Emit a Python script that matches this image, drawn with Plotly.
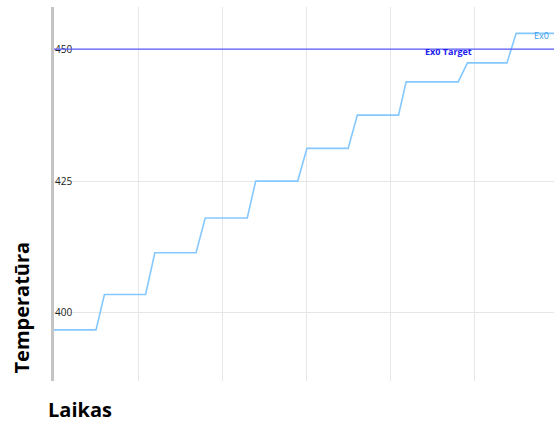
import plotly.graph_objects as go

# Data
times = [0, 0.50, 0.60, 1.09, 1.20, 1.69, 1.80, 2.30, 2.40, 2.90, 3.01,
         3.50, 3.61, 4.10, 4.19, 4.81, 4.92, 5.39, 5.50, 5.95]
temps = [396.8, 396.8, 403.5, 403.5, 411.4, 411.4, 418.0, 418.0, 425.0, 425.0,
         431.2, 431.2, 437.5, 437.5, 443.8, 443.8, 447.4, 447.4, 453.0, 453.0]
target_value = 450
series_name = "Ex0"
target_name = "Ex0 Target"
y_ticks = [400, 425, 450]
x_title = "Laikas"
y_title = "Temperatūra"

fig = go.Figure()
fig.add_trace(go.Scatter(
    x=times, y=temps, mode="lines", name=series_name,
    line=dict(color="#84c8ff", width=1.6), showlegend=False,
))

fig.add_shape(type="line", xref="paper", x0=0, x1=1, yref="y",
              y0=target_value, y1=target_value,
              line=dict(color="#5a5aff", width=1.3))

fig.add_annotation(x=4.69, y=target_value, xref="x", yref="y", text=target_name,
                   showarrow=False, yshift=-2, xanchor="center", yanchor="middle",
                   font=dict(family="Open Sans", size=9, color="#2020ee", weight="bold"))
fig.add_annotation(x=5.69, y=452.6, xref="x", yref="y", text=series_name,
                   showarrow=False, xanchor="left", yanchor="middle",
                   font=dict(family="Open Sans", size=9, color="#3b9ae8"))

fig.add_annotation(x=-0.064, y=0.1965, xref="paper", yref="paper", text=y_title,
                   textangle=-90, showarrow=False, xanchor="center", yanchor="middle",
                   font=dict(family="Open Sans", size=20, color="#000000", weight="bold"))
fig.add_annotation(x=0.052, y=-0.076, xref="paper", yref="paper", text=x_title,
                   showarrow=False, xanchor="center", yanchor="middle",
                   font=dict(family="Open Sans", size=20, color="#000000", weight="bold"))

fig.update_layout(
    width=554, height=423,
    margin=dict(l=54, r=0, t=7, b=42),
    paper_bgcolor="white", plot_bgcolor="white",
    xaxis=dict(range=[0, 5.95], dtick=1, tick0=0, showgrid=True,
               gridcolor="#e6e6e6", gridwidth=1.3, showticklabels=False,
               zeroline=False, showline=False, ticks=""),
    yaxis=dict(range=[387.1, 458.0], tickvals=y_ticks, showgrid=True,
               gridcolor="#e6e6e6", gridwidth=1.3, zeroline=False,
               showline=True, linecolor="#c4c4c4", linewidth=3,
               ticks="", ticklabelposition="inside",
               tickfont=dict(family="Open Sans", size=10, color="#222222")),
)

fig.write_html("out.html")
